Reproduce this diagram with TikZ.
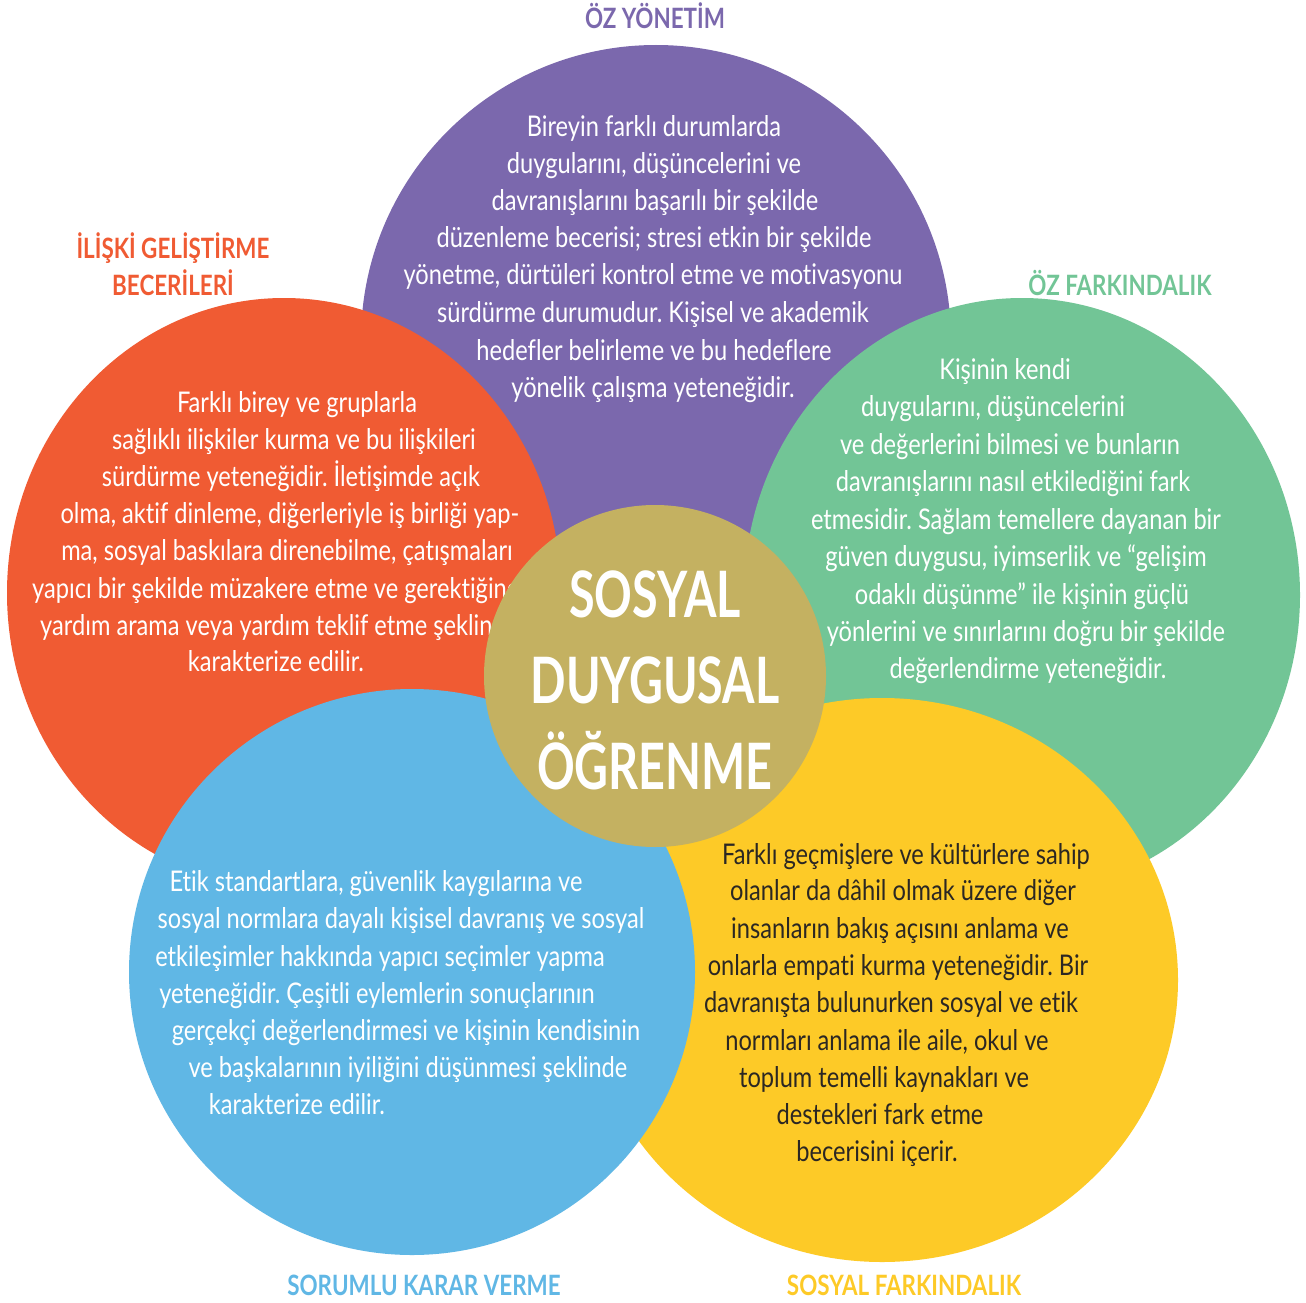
\documentclass[tikz,border=0pt]{standalone}
\usepackage{fontspec}
\setmainfont{Lato}
\newfontfamily\bodyf[FakeStretch=0.83, Ligatures=NoCommon]{Lato}
\newfontfamily\headf[FakeStretch=0.8, Ligatures=NoCommon]{Lato}
\newfontfamily\coref[FakeStretch=0.73, Ligatures=NoCommon]{Lato}
\usetikzlibrary{shapes.geometric}
\definecolor{cpurple}{HTML}{7B68AD}
\definecolor{corange}{HTML}{F05B33}
\definecolor{cgreen}{HTML}{72C596}
\definecolor{cblue}{HTML}{60B7E5}
\definecolor{cyellow}{HTML}{FDCA27}
\definecolor{cgold}{HTML}{C4B161}
\definecolor{cdark}{HTML}{2B2723}
\tikzset{
  blob/.style={ellipse, inner sep=0pt, outer sep=0pt, draw=none},
  body/.style={font=\bodyf\frenchspacing\fontsize{28.5}{30}\selectfont, text=white, inner sep=0pt, text height=20pt, text depth=6pt, yshift=-2.5pt},
  darkbody/.style={body, text=cdark},
  title/.style={font=\headf\bfseries\fontsize{28}{30}\selectfont, inner sep=0pt, text height=20pt, text depth=0pt},
  core/.style={font=\coref\bfseries\fontsize{64}{70}\selectfont, text=white, inner sep=0pt, text height=46pt, text depth=0pt}
}
\newcommand\putline[5]{\node[#1] (#2) at (#3,#4) {#5};}
\begin{document}
\begin{tikzpicture}[x=1pt,y=-1pt]
\useasboundingbox (0,0) rectangle (1306,1303);
\fill[white] (0,0) rectangle (1306,1303);

% purple
\node[blob, fill=cpurple, minimum width=590pt, minimum height=590pt] (purple) at (656,340) {};
\putline{body}{p1}{654}{127}{Bireyin farklı durumlarda}
\putline{body}{p2}{654}{164}{duygularını, düşüncelerini ve}
\putline{body}{p3}{655}{201}{davranışlarını başarılı bir şekilde}
\putline{body}{p4}{654}{238}{düzenleme becerisi; stresi etkin bir şekilde}
\putline{body}{p5}{653}{275}{yönetme, dürtüleri kontrol etme ve motivasyonu}
\putline{body}{p6}{653}{313}{sürdürme durumudur. Kişisel ve akademik}
\putline{body}{p7}{654}{351}{hedefler belirleme ve bu hedeflere}
\putline{body}{p8}{653}{388}{yönelik çalışma yeteneğidir.}

% orange
\node[blob, fill=corange, minimum width=554pt, minimum height=590pt] (orange) at (284,593) {};
\putline{body}{o1}{297}{403}{Farklı birey ve gruplarla}
\putline{body}{o2}{294}{440}{sağlıklı ilişkiler kurma ve bu ilişkileri}
\putline{body}{o3}{291}{477}{sürdürme yeteneğidir. İletişimde açık}
\putline{body}{o4}{290}{514}{olma, aktif dinleme, diğerleriyle iş birliği yap-}
\putline{body}{o5}{287}{551}{ma, sosyal baskılara direnebilme, çatışmaları}
\putline{body, anchor=west}{o6}{32}{589}{yapıcı bir şekilde müzakere etme ve gerektiğinde}
\putline{body, anchor=west}{o7}{40}{626}{yardım arama veya yardım teklif etme şeklinde}
\putline{body}{o8}{276}{662}{karakterize edilir.}

% green
\node[blob, fill=cgreen, minimum width=556pt, minimum height=594pt] (green) at (1022,595) {};
\putline{body}{g1}{1005}{370}{Kişinin kendi}
\putline{body}{g2}{993}{407}{duygularını, düşüncelerini}
\putline{body}{g3}{1010}{445}{ve değerlerini bilmesi ve bunların}
\putline{body}{g4}{1013}{482}{davranışlarını nasıl etkilediğini fark}
\putline{body}{g5}{1016}{520}{etmesidir. Sağlam temellere dayanan bir}
\putline{body}{g6}{1016}{557}{güven duygusu, iyimserlik ve “gelişim}
\putline{body}{g7}{1022}{595}{odaklı düşünme” ile kişinin güçlü}
\putline{body}{g8}{1026}{632}{yönlerini ve sınırlarını doğru bir şekilde}
\putline{body}{g9}{1028}{669}{değerlendirme yeteneğidir.}

% yellow
\node[blob, fill=cyellow, minimum width=592pt, minimum height=564pt] (yellow) at (882,980) {};
\putline{darkbody}{y1}{906}{855}{Farklı geçmişlere ve kültürlere sahip}
\putline{darkbody}{y2}{903}{891}{olanlar da dâhil olmak üzere diğer}
\putline{darkbody}{y3}{900}{929}{insanların bakış açısını anlama ve}
\putline{darkbody}{y4}{898}{966}{onlarla empati kurma yeteneğidir. Bir}
\putline{darkbody}{y5}{891}{1003}{davranışta bulunurken sosyal ve etik}
\putline{darkbody}{y6}{887}{1041}{normları anlama ile aile, okul ve}
\putline{darkbody}{y7}{884}{1078}{toplum temelli kaynakları ve}
\putline{darkbody}{y8}{880}{1115}{destekleri fark etme}
\putline{darkbody}{y9}{877}{1152}{becerisini içerir.}

% blue
\node[blob, fill=cblue, minimum width=566pt, minimum height=566pt] (blue) at (412,972) {};
\putline{body}{b1}{376}{882}{Etik standartlara, güvenlik kaygılarına ve}
\putline{body}{b2}{401}{919}{sosyal normlara dayalı kişisel davranış ve sosyal}
\putline{body}{b3}{380}{957}{etkileşimler hakkında yapıcı seçimler yapma}
\putline{body}{b4}{377}{994}{yeteneğidir. Çeşitli eylemlerin sonuçlarının}
\putline{body}{b5}{406}{1031}{gerçekçi değerlendirmesi ve kişinin kendisinin}
\putline{body}{b6}{408}{1068}{ve başkalarının iyiliğini düşünmesi şeklinde}
\putline{body}{b7}{297}{1105}{karakterize edilir.}

% centre
\node[blob, fill=cgold, minimum width=342pt, minimum height=342pt] (core) at (655,676) {};
\putline{core}{c1}{655}{594}{SOSYAL}
\putline{core}{c2}{655}{680}{DUYGUSAL}
\putline{core}{c3}{655}{766}{ÖĞRENME}

% titles
\putline{title, text=cpurple}{t1}{655}{19}{ÖZ YÖNETİM}
\putline{title, text=corange}{t2}{173}{248}{İLİŞKİ GELİŞTİRME}
\putline{title, text=corange}{t3}{173}{285}{BECERİLERİ}
\putline{title, text=cgreen}{t4}{1120}{285}{ÖZ FARKINDALIK}
\putline{title, text=cblue}{t5}{424}{1285}{SORUMLU KARAR VERME}
\putline{title, text=cyellow}{t6}{904}{1285}{SOSYAL FARKINDALIK}
\end{tikzpicture}
\end{document}
